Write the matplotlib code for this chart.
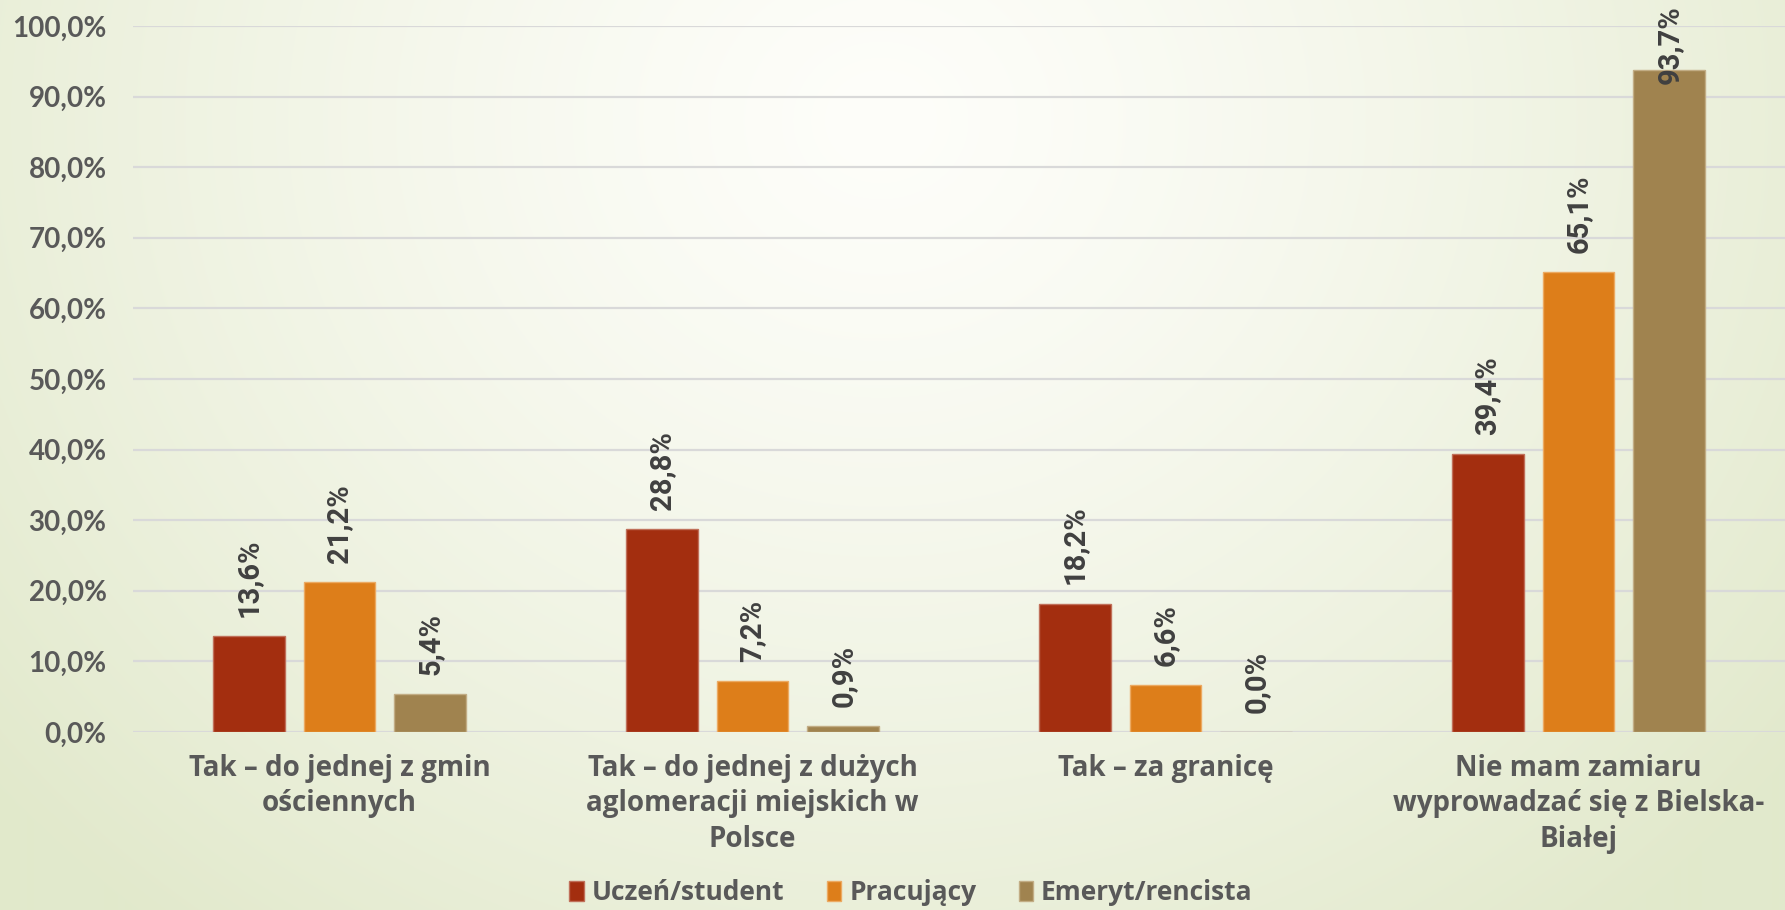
import matplotlib
matplotlib.use("Agg")
import matplotlib.pyplot as plt
import numpy as np

# data
categories = [
    "Tak – do jednej z gmin\nościennych",
    "Tak – do jednej z dużych\naglomeracji miejskich w\nPolsce",
    "Tak – za granicę",
    "Nie mam zamiaru\nwyprowadzać się z Bielska-\nBiałej",
]
series_names = ["Uczeń/student", "Pracujący", "Emeryt/rencista"]
uczen = [13.6, 28.8, 18.2, 39.4]
pracujacy = [21.2, 7.2, 6.6, 65.1]
emeryt = [5.4, 0.9, 0.0, 93.7]
yticks = [0, 10, 20, 30, 40, 50, 60, 70, 80, 90, 100]

colors = ["#a32e0f", "#dd7e1a", "#a0834f"]
edges = ["#c0705a", "#ecaa62", "#c2ad85"]
text_grey = "#595959"
label_grey = "#404040"

fig = plt.figure(figsize=(17.85, 9.10), dpi=100)

# radial background gradient (white near top centre -> pale green at edges)
bg = fig.add_axes([0, 0, 1, 1], zorder=-10)
h, w = 910, 1785
yy, xx = np.mgrid[0:h, 0:w]
d = np.sqrt(((xx - 880) / 1.0) ** 2 + ((yy - 120) / 0.9) ** 2) / 1150.0
d = np.clip(d, 0, 1) ** 1.3
c0 = np.array([0.995, 0.995, 0.98])
c1 = np.array([0.886, 0.914, 0.800])
img = c0[None, None, :] * (1 - d[..., None]) + c1[None, None, :] * d[..., None]
bg.imshow(img, aspect="auto", extent=[0, 1, 0, 1], origin="upper")
bg.axis("off")

ax = fig.add_axes([133 / 1785, 1 - 732 / 910, 1 - 133 / 1785, (732 - 26) / 910])
ax.patch.set_alpha(0)

x = np.arange(len(categories))
bw = 0.174
step = 0.22
all_series = [uczen, pracujacy, emeryt]
for i, (vals, name) in enumerate(zip(all_series, series_names)):
    pos = x + (i - 1) * step
    ax.bar(pos, vals, width=bw, color=colors[i], edgecolor=edges[i],
           linewidth=1, label=name, zorder=3)
    for px, v in zip(pos, vals):
        ytxt = min(v + 2.7, 91.8)
        ax.text(px, ytxt, f"{v:.1f}%".replace(".", ","), rotation=90,
                ha="center", va="bottom", fontsize=21, fontweight="bold",
                family="Roboto", color=label_grey, zorder=4, clip_on=False)

ax.set_xlim(-0.5, len(categories) - 0.5)
ax.set_ylim(0, 100)
ax.set_yticks(yticks)
ax.set_yticklabels([f"{t:.1f}%".replace(".", ",") for t in yticks])
ax.set_xticks(x)
ax.set_xticklabels(categories, linespacing=1.28)
ax.grid(axis="y", color="#d9d9d9", linewidth=1.6, zorder=0)
ax.set_axisbelow(True)
for s in ax.spines.values():
    s.set_visible(False)
ax.tick_params(axis="both", length=0)
ax.tick_params(axis="y", pad=19)
ax.tick_params(axis="x", pad=16)
for lab in ax.get_yticklabels():
    lab.set_fontsize(20)
    lab.set_fontweight("bold")
    lab.set_family("Lato")
    lab.set_color(text_grey)
for lab in ax.get_xticklabels():
    lab.set_fontsize(20)
    lab.set_fontweight("bold")
    lab.set_family("Open Sans")
    lab.set_color(text_grey)

leg = fig.legend(loc="center", bbox_to_anchor=(911 / 1785, 1 - 893 / 910),
                 ncol=3, frameon=False, handlelength=0.55, handleheight=0.8,
                 handletextpad=0.3, columnspacing=1.6,
                 prop={"family": "Open Sans", "weight": "bold", "size": 19})
for t in leg.get_texts():
    t.set_color(text_grey)

fig.savefig("out.png", dpi=100)
